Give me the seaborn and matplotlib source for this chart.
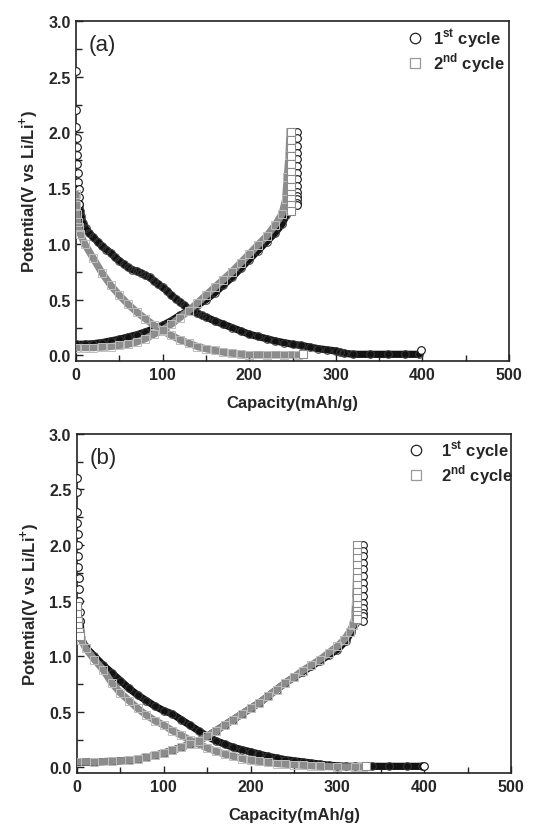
import matplotlib
matplotlib.use("Agg")
import matplotlib.pyplot as plt
import seaborn as sns
import pandas as pd
from matplotlib.lines import Line2D
from matplotlib.ticker import MultipleLocator, FormatStrFormatter

# ---------------- data: panel (a) ----------------
# 1st cycle, discharge: sparse start near x=0
a1_start_x = [0, 0, 0.3, 0.6, 0.9, 1.2, 1.5, 2.0, 2.5, 3.0, 3.5, 4.0]
a1_start_y = [2.55, 2.20, 2.05, 1.95, 1.87, 1.80, 1.72, 1.64, 1.56, 1.49, 1.42, 1.36]
# 1st cycle, discharge: dense part
a1_dis_x = [4, 5, 6, 8, 11, 15, 20, 25, 30, 35, 40, 45, 50, 55, 60, 65, 70, 75, 80, 85,
            90, 95, 100, 105, 110, 115, 120, 125, 130, 135, 140, 145, 150, 160, 170, 180,
            190, 200, 210, 220, 230, 240, 250, 260, 270, 280, 290, 300, 305, 310, 320,
            340, 360, 380, 396]
a1_dis_y = [1.36, 1.30, 1.25, 1.19, 1.14, 1.10, 1.06, 1.02, 0.98, 0.95, 0.92, 0.88, 0.85,
            0.82, 0.79, 0.77, 0.755, 0.74, 0.72, 0.70, 0.67, 0.64, 0.61, 0.58, 0.54, 0.51,
            0.48, 0.45, 0.42, 0.40, 0.38, 0.36, 0.345, 0.31, 0.28, 0.25, 0.22, 0.19, 0.17,
            0.15, 0.13, 0.115, 0.10, 0.09, 0.075, 0.06, 0.05, 0.04, 0.03, 0.02, 0.01,
            0.01, 0.01, 0.01, 0.01]
a1_end_x = [398]
a1_end_y = [0.05]
# 1st cycle, charge
a1_chg_x = [0, 10, 20, 30, 40, 50, 60, 70, 80, 90, 100, 110, 120, 130, 140, 150, 160, 170,
            180, 190, 200, 210, 220, 230, 238, 243, 246, 248, 249, 250]
a1_chg_y = [0.10, 0.10, 0.105, 0.115, 0.13, 0.145, 0.165, 0.185, 0.21, 0.24, 0.27, 0.31,
            0.36, 0.40, 0.45, 0.50, 0.56, 0.63, 0.70, 0.78, 0.86, 0.94, 1.02, 1.10, 1.18,
            1.26, 1.40, 1.60, 1.80, 2.00]
# 1st cycle, relaxation column
a1_col_x = [255, 255, 255, 255, 255, 255, 255, 255, 255, 255, 255, 255, 255, 255]
a1_col_y = [2.00, 1.95, 1.88, 1.82, 1.76, 1.70, 1.64, 1.58, 1.52, 1.47, 1.43, 1.40, 1.37, 1.35]

# 2nd cycle, discharge
a2_dis_x = [0, 0.5, 1, 2, 3, 5, 10, 20, 30, 40, 50, 60, 70, 80, 90, 100, 110, 120, 130,
            140, 150, 160, 170, 180, 190, 200, 220, 240, 256]
a2_dis_y = [1.45, 1.35, 1.27, 1.20, 1.15, 1.09, 1.00, 0.87, 0.74, 0.63, 0.54, 0.46, 0.39,
            0.33, 0.27, 0.22, 0.18, 0.14, 0.11, 0.08, 0.06, 0.045, 0.03, 0.02, 0.012,
            0.005, 0.005, 0.005, 0.005]
a2_end_x = [262]
a2_end_y = [0.01]
# 2nd cycle, charge
a2_chg_x = [0, 10, 20, 30, 40, 50, 60, 70, 80, 90, 100, 110, 120, 130, 140, 150, 160, 170,
            180, 190, 200, 210, 220, 230, 238, 242, 244, 246, 247]
a2_chg_y = [0.07, 0.07, 0.07, 0.075, 0.08, 0.09, 0.10, 0.12, 0.15, 0.19, 0.23, 0.28, 0.34,
            0.40, 0.47, 0.54, 0.61, 0.68, 0.75, 0.83, 0.91, 0.99, 1.07, 1.17, 1.27, 1.40,
            1.60, 1.80, 2.00]
a2_col_x = [248, 248, 248, 248, 248, 248, 248, 248, 248, 248, 248, 248]
a2_col_y = [2.00, 1.93, 1.86, 1.79, 1.72, 1.65, 1.58, 1.51, 1.45, 1.40, 1.35, 1.30]

# ---------------- data: panel (b) ----------------
b1_start_x = [0, 0, 0.3, 0.5, 0.8, 1.0, 1.2, 1.5, 1.8, 2.0, 2.5, 3.0, 3.5]
b1_start_y = [2.60, 2.48, 2.30, 2.20, 2.10, 2.00, 1.90, 1.80, 1.70, 1.60, 1.50, 1.40, 1.32]
b1_dis_x = [3.5, 5, 10, 20, 30, 40, 50, 60, 70, 80, 90, 100, 110, 120, 130, 140, 150, 160,
            170, 180, 190, 200, 210, 220, 230, 240, 250, 260, 270, 280, 290, 300, 310, 320,
            340, 360, 380, 398]
b1_dis_y = [1.32, 1.16, 1.08, 1.00, 0.92, 0.85, 0.78, 0.71, 0.65, 0.60, 0.55, 0.51, 0.48,
            0.43, 0.38, 0.33, 0.28, 0.24, 0.21, 0.18, 0.16, 0.14, 0.12, 0.10, 0.085, 0.07,
            0.06, 0.05, 0.04, 0.03, 0.02, 0.015, 0.01, 0.01, 0.01, 0.01, 0.01, 0.01]
b1_end_x = [400]
b1_end_y = [0.01]
b1_chg_x = [0, 20, 40, 60, 70, 80, 90, 100, 110, 120, 130, 140, 150, 160, 170, 180, 190,
            200, 210, 220, 230, 240, 250, 260, 270, 280, 290, 300, 310, 316, 320, 323, 324,
            325]
b1_chg_y = [0.045, 0.05, 0.055, 0.065, 0.075, 0.09, 0.11, 0.13, 0.155, 0.18, 0.21, 0.24,
            0.28, 0.33, 0.38, 0.43, 0.48, 0.53, 0.58, 0.64, 0.70, 0.76, 0.81, 0.86, 0.91,
            0.96, 1.01, 1.06, 1.14, 1.22, 1.30, 1.45, 1.70, 2.00]
b1_col_x = [330, 330, 330, 330, 330, 330, 330, 330, 330, 330, 330, 330, 330, 330]
b1_col_y = [2.00, 1.95, 1.90, 1.84, 1.78, 1.72, 1.66, 1.60, 1.54, 1.48, 1.43, 1.39, 1.36, 1.32]

b2_start_x = [0, 0.5, 1, 1.5, 2.5, 4]
b2_start_y = [1.45, 1.38, 1.32, 1.27, 1.22, 1.18]
b2_dis_x = [4, 5, 10, 20, 30, 40, 50, 60, 70, 80, 90, 100, 110, 120, 130, 140, 150, 160,
            170, 180, 190, 200, 210, 220, 230, 240, 250, 260, 270, 280, 300, 320, 330]
b2_dis_y = [1.18, 1.15, 1.07, 0.97, 0.88, 0.76, 0.67, 0.60, 0.53, 0.47, 0.42, 0.38, 0.33,
            0.29, 0.245, 0.21, 0.175, 0.145, 0.12, 0.10, 0.08, 0.065, 0.055, 0.045, 0.035,
            0.03, 0.025, 0.02, 0.015, 0.01, 0.005, 0.005, 0.005]
b2_end_x = [333]
b2_end_y = [0.01]
b2_chg_x = [0, 20, 40, 60, 70, 80, 90, 100, 110, 120, 130, 140, 150, 160, 170, 180, 190,
            200, 210, 220, 230, 240, 250, 260, 270, 280, 290, 300, 308, 314, 318, 320, 321,
            322, 323]
b2_chg_y = [0.05, 0.05, 0.055, 0.065, 0.075, 0.09, 0.11, 0.13, 0.155, 0.18, 0.21, 0.24,
            0.28, 0.33, 0.38, 0.43, 0.48, 0.53, 0.58, 0.64, 0.70, 0.76, 0.81, 0.87, 0.92,
            0.97, 1.03, 1.09, 1.15, 1.22, 1.28, 1.35, 1.50, 1.70, 2.00]
b2_col_x = [323, 323, 323, 323, 323, 323, 323, 323, 323, 323, 323, 323, 323]
b2_col_y = [2.00, 1.94, 1.88, 1.82, 1.76, 1.70, 1.64, 1.58, 1.52, 1.46, 1.41, 1.37, 1.33]

legend_labels = ["1$^{\\mathbf{st}}$ cycle", "2$^{\\mathbf{nd}}$ cycle"]
panel_labels = ["(a)", "(b)"]
x_label = "Capacity(mAh/g)"
y_label = "Potential(V vs Li/Li$^{\\mathbf{+}}$)"

# ---------------- style ----------------
sns.set_theme(style="white")
plt.rcParams["font.family"] = ["Liberation Sans", "DejaVu Sans"]
plt.rcParams["mathtext.fontset"] = "custom"
plt.rcParams["mathtext.bf"] = "Liberation Sans:bold"
plt.rcParams["mathtext.rm"] = "Liberation Sans"

C1 = "#121212"
C2 = "#8c8c8c"
MS = 5.5
LW = 5.2

fig = plt.figure(figsize=(5.54, 8.28), dpi=100)
ax_a = fig.add_axes([0.1372, 0.5628, 0.7816, 0.4106])
ax_b = fig.add_axes([0.1390, 0.0652, 0.7834, 0.4098])


def dense(ax, xs, ys, color, marker, mfc, mec, z):
    df = pd.DataFrame({"x": xs, "y": ys})
    sns.lineplot(data=df, x="x", y="y", ax=ax, sort=False, estimator=None,
                 color=color, lw=LW, marker=marker, ms=MS, mfc=mfc, mec=mec,
                 mew=0.7, zorder=z)


def sparse(ax, xs, ys, color, marker, z):
    df = pd.DataFrame({"x": xs, "y": ys})
    sns.scatterplot(data=df, x="x", y="y", ax=ax, marker=marker, s=MS ** 2,
                    facecolors="white", edgecolor=color, linewidth=0.8, zorder=z)


def panel(ax, d):
    # 1st cycle first, 2nd cycle drawn over it
    dense(ax, d["c1_dis_x"], d["c1_dis_y"], C1, "o", "none", "#3a3a3a", 3)
    dense(ax, d["c1_chg_x"], d["c1_chg_y"], C1, "o", "none", "#3a3a3a", 3)
    sparse(ax, d["c1_start_x"], d["c1_start_y"], C1, "o", 3)
    sparse(ax, d["c1_col_x"], d["c1_col_y"], C1, "o", 3)
    sparse(ax, d["c1_end_x"], d["c1_end_y"], C1, "o", 3)
    dense(ax, d["c2_dis_x"], d["c2_dis_y"], C2, "s", "none", "#bdbdbd", 4)
    dense(ax, d["c2_chg_x"], d["c2_chg_y"], C2, "s", "none", "#bdbdbd", 4)
    if d.get("c2_start_x"):
        sparse(ax, d["c2_start_x"], d["c2_start_y"], C2, "s", 4)
    sparse(ax, d["c2_col_x"], d["c2_col_y"], C2, "s", 4)
    sparse(ax, d["c2_end_x"], d["c2_end_y"], C2, "s", 4)


panel(ax_a, dict(c1_start_x=a1_start_x, c1_start_y=a1_start_y,
                 c1_dis_x=a1_dis_x, c1_dis_y=a1_dis_y,
                 c1_chg_x=a1_chg_x, c1_chg_y=a1_chg_y,
                 c1_col_x=a1_col_x, c1_col_y=a1_col_y,
                 c1_end_x=a1_end_x, c1_end_y=a1_end_y,
                 c2_dis_x=a2_dis_x, c2_dis_y=a2_dis_y,
                 c2_chg_x=a2_chg_x, c2_chg_y=a2_chg_y,
                 c2_col_x=a2_col_x, c2_col_y=a2_col_y,
                 c2_end_x=a2_end_x, c2_end_y=a2_end_y))
panel(ax_b, dict(c1_start_x=b1_start_x, c1_start_y=b1_start_y,
                 c1_dis_x=b1_dis_x, c1_dis_y=b1_dis_y,
                 c1_chg_x=b1_chg_x, c1_chg_y=b1_chg_y,
                 c1_col_x=b1_col_x, c1_col_y=b1_col_y,
                 c1_end_x=b1_end_x, c1_end_y=b1_end_y,
                 c2_start_x=b2_start_x, c2_start_y=b2_start_y,
                 c2_dis_x=b2_dis_x, c2_dis_y=b2_dis_y,
                 c2_chg_x=b2_chg_x, c2_chg_y=b2_chg_y,
                 c2_col_x=b2_col_x, c2_col_y=b2_col_y,
                 c2_end_x=b2_end_x, c2_end_y=b2_end_y))

handles = [
    Line2D([], [], ls="none", marker="o", ms=7.5, mfc="white", mec="#222222", mew=0.9),
    Line2D([], [], ls="none", marker="s", ms=7.5, mfc="white", mec="#999999", mew=0.9),
]

legend_anchor = {"(a)": (1.018, 1.018), "(b)": (1.03, 1.02)}
legend_textpad = {"(a)": 0.6, "(b)": 1.0}

for ax, plab in zip([ax_a, ax_b], panel_labels):
    ax.set_xlim(0, 500)
    ax.set_ylim(-0.05, 3.0)
    ax.xaxis.set_major_locator(MultipleLocator(100))
    ax.xaxis.set_minor_locator(MultipleLocator(50))
    ax.yaxis.set_major_locator(MultipleLocator(0.5))
    ax.yaxis.set_minor_locator(MultipleLocator(0.25))
    ax.tick_params(which="both", direction="in", color="#222222", width=1.0,
                   bottom=True, left=True, top=False, right=False)
    ax.tick_params(which="major", length=5, labelsize=11.5, pad=4)
    ax.tick_params(which="minor", length=4)
    ax.xaxis.set_major_formatter(FormatStrFormatter("%d"))
    ax.yaxis.set_major_formatter(FormatStrFormatter("%.1f"))
    for lab in ax.get_xticklabels() + ax.get_yticklabels():
        lab.set_fontweight("bold")
    for sp in ax.spines.values():
        sp.set_color("#222222")
        sp.set_linewidth(1.2)
    ax.set_xlabel(x_label, fontsize=12, fontweight="bold", labelpad=10)
    ax.set_ylabel(y_label, fontsize=12, fontweight="bold", labelpad=6)
    ax.text(0.03, 0.93, plab, transform=ax.transAxes, fontsize=16,
            ha="left", va="center")
    ax.legend(handles, legend_labels, loc="upper right",
              bbox_to_anchor=legend_anchor[plab], frameon=False,
              prop={"weight": "bold", "size": 12},
              handlelength=1.0, handletextpad=legend_textpad[plab],
              labelspacing=0.05, borderaxespad=0.3)

fig.savefig("out.png", dpi=100)
